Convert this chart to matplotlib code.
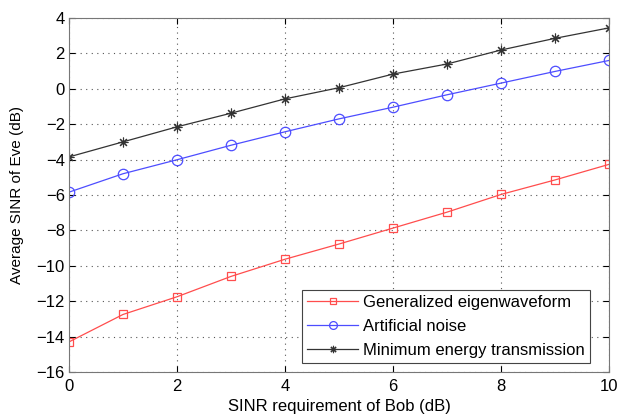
import numpy as np
import matplotlib.pyplot as plt

plt.rcParams['font.family'] = ['Liberation Sans', 'DejaVu Sans']

# SINR requirement of Bob (dB)
x = np.arange(0, 11)
# average SINR of Eve (dB)
gen_eig = [-14.3, -12.75, -11.75, -10.6, -9.63, -8.77, -7.87, -6.97, -5.97, -5.15, -4.27]
art_noise = [-5.84, -4.8, -4.01, -3.19, -2.43, -1.7, -1.04, -0.34, 0.32, 0.98, 1.6]
min_energy = [-3.85, -3.0, -2.15, -1.38, -0.57, 0.06, 0.83, 1.4, 2.19, 2.85, 3.44]

fig = plt.figure(figsize=(6.19, 4.16), dpi=100)
ax = fig.add_axes([0.1115, 0.1058, 0.8724, 0.851])

ax.plot(x, gen_eig, color='#ff4d4d', marker='s', markersize=6, mfc='none',
        mew=0.9, lw=0.9, label='Generalized eigenwaveform')
ax.plot(x, art_noise, color='#4d4dff', marker='o', markersize=7.5, mfc='none',
        mew=0.9, lw=0.9, label='Artificial noise')
ax.plot(x, min_energy, color='#333333', marker=(8, 2, 0), markersize=7,
        mew=0.8, lw=0.9, label='Minimum energy transmission')

ax.set_xlim(0, 10)
ax.set_ylim(-16, 4)
ax.set_xticks(range(0, 11, 2))
ax.set_yticks(range(-16, 5, 2))
ax.grid(True, color='#555555', ls=(0, (1, 4)), lw=0.8)
ax.tick_params(direction='in', labelsize=12, length=4, top=True, right=True)
ax.tick_params(axis='x', pad=5)
ax.tick_params(axis='y', pad=3)
for s in ax.spines.values():
    s.set_color('#777777')

ax.set_xlabel('SINR requirement of Bob (dB)', fontsize=12, labelpad=4)
ax.set_ylabel('Average SINR of Eve (dB)', fontsize=11, labelpad=9)

leg = ax.legend(loc='lower right', bbox_to_anchor=(0.965, 0.025), borderaxespad=0,
                fontsize=12, fancybox=False, framealpha=1, edgecolor='#444444',
                handlelength=3.1, handletextpad=0.3, labelspacing=0.55,
                borderpad=0.3, markerscale=0.75)
leg.get_frame().set_linewidth(0.8)

fig.savefig('out.png', dpi=100)
